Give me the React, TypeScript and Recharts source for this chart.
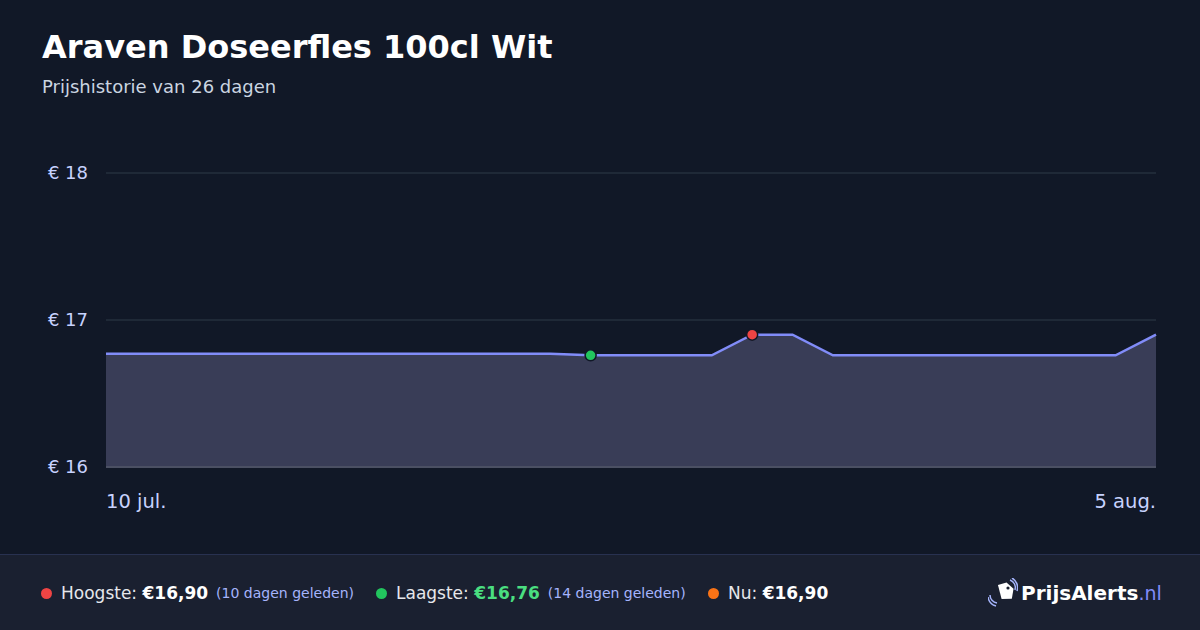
import React from 'react';
import { AreaChart, Area, XAxis, YAxis, CartesianGrid } from 'recharts';

const dates = [
  '10 jul.', '11 jul.', '12 jul.', '13 jul.', '14 jul.', '15 jul.', '16 jul.', '17 jul.', '18 jul.',
  '19 jul.', '20 jul.', '21 jul.', '22 jul.', '23 jul.', '24 jul.', '25 jul.', '26 jul.', '27 jul.',
  '28 jul.', '29 jul.', '30 jul.', '31 jul.', '1 aug.', '2 aug.', '3 aug.', '4 aug.', '5 aug.',
];
const prices = [
  16.77, 16.77, 16.77, 16.77, 16.77, 16.77, 16.77, 16.77, 16.77,
  16.77, 16.77, 16.77, 16.76, 16.76, 16.76, 16.76, 16.9, 16.9,
  16.76, 16.76, 16.76, 16.76, 16.76, 16.76, 16.76, 16.76, 16.9,
];
const yTicks = [16, 17, 18];
const xTicks = ['10 jul.', '5 aug.'];
const lowIndex = 12;
const highIndex = 16;

const data = dates.map((d, i) => ({ date: d, price: prices[i] }));

const BG = '#111827';
const FONT = '"DejaVu Sans", sans-serif';

const XTick = (props: any) => {
  const { x, y, payload } = props;
  const first = payload.value === xTicks[0];
  return (
    <text x={x} y={y + 33} textAnchor={first ? 'start' : 'end'} fill="#c7d2fe" fontSize={19.5} fontFamily={FONT}>
      {payload.value}
    </text>
  );
};

const YTick = (props: any) => {
  const { y, payload } = props;
  return (
    <text x={88} y={y + 6} textAnchor="end" fill="#c7d2fe" fontSize={18} fontFamily={FONT}>
      {'€ ' + payload.value}
    </text>
  );
};

const Dot = (props: any) => {
  const { cx, cy, index } = props;
  if (index !== lowIndex && index !== highIndex) return <g key={index} />;
  return (
    <circle key={index} cx={cx} cy={cy} r={5.5} fill={index === lowIndex ? '#22c55e' : '#ef4444'} stroke={BG} strokeWidth={1.5} />
  );
};

const Legend = ({ color, label, value, valueColor, note, left }: any) => (
  <div style={{ position: 'absolute', left, top: 0, display: 'flex', alignItems: 'center', whiteSpace: 'nowrap' }}>
    <span style={{ width: 11, height: 11, borderRadius: 6, background: color, display: 'inline-block', marginRight: 9 }} />
    <span style={{ color: '#e5e7eb', fontSize: 17 }}>{label}&nbsp;</span>
    <span style={{ color: valueColor, fontSize: 17, fontWeight: 700 }}>{value}</span>
    {note && <span style={{ color: '#a5b4fc', fontSize: 14, marginLeft: 8 }}>{note}</span>}
  </div>
);

export default function App() {
  return (
    <div style={{ position: 'absolute', left: 0, top: 0, width: 1200, height: 630, background: BG, fontFamily: FONT, overflow: 'hidden' }}>
      <div style={{ position: 'absolute', left: 42, top: 28, color: '#ffffff', fontSize: 32, fontWeight: 700 }}>
        Araven Doseerfles 100cl Wit
      </div>
      <div style={{ position: 'absolute', left: 42, top: 76, color: '#cbd5e1', fontSize: 18 }}>
        Prijshistorie van 26 dagen
      </div>
      <div style={{ position: 'absolute', left: 0, top: 0 }}>
        <AreaChart width={1200} height={540} data={data} margin={{ top: 173, right: 44, left: 0, bottom: 23 }}>
          <CartesianGrid vertical={false} stroke="#1f2937" strokeWidth={2} />
          <XAxis dataKey="date" ticks={xTicks} interval={0} tick={<XTick />} tickLine={false}
            axisLine={{ stroke: '#4b5063', strokeWidth: 2 }} height={50} />
          <YAxis domain={[16, 18]} ticks={yTicks} tick={<YTick />} tickLine={false} axisLine={false} width={106} />
          <Area type="linear" dataKey="price" stroke="#818cf8" strokeWidth={2.5} fill="#393d57" fillOpacity={1}
            dot={Dot} activeDot={false} isAnimationActive={false} baseValue={16} />
        </AreaChart>
      </div>
      <div style={{ position: 'absolute', left: 0, top: 554, width: 1200, height: 76, background: '#1a2030', borderTop: '1px solid #283150' }}>
        <div style={{ position: 'absolute', left: 0, top: 28, width: 1200, height: 24 }}>
          <Legend left={41} color="#ef4444" label="Hoogste:" value="€16,90" valueColor="#ffffff" note="(10 dagen geleden)" />
          <Legend left={376} color="#22c55e" label="Laagste:" value="€16,76" valueColor="#4ade80" note="(14 dagen geleden)" />
          <Legend left={708} color="#f97316" label="Nu:" value="€16,90" valueColor="#ffffff" />
        </div>
        <div style={{ position: 'absolute', left: 988, top: 23, display: 'flex', alignItems: 'center' }}>
          <svg width={30} height={30} viewBox="0 0 30 30">
            <path d="M9 8 L17 4 L25 9 L25 19 L15 21 Z" fill="#ffffff" transform="rotate(10 15 13)" />
            <circle cx={20} cy={10} r={1.6} fill="#1a2030" />
            <path d="M22 2 A8 8 0 0 1 27 12" stroke="#a5b4fc" strokeWidth={1.5} fill="none" />
            <path d="M24 0 A11 11 0 0 1 29 13" stroke="#a5b4fc" strokeWidth={1.5} fill="none" />
            <path d="M2 17 A8 8 0 0 0 9 25" stroke="#a5b4fc" strokeWidth={1.5} fill="none" />
            <path d="M0 19 A11 11 0 0 0 8 28" stroke="#a5b4fc" strokeWidth={1.5} fill="none" />
          </svg>
          <span style={{ color: '#ffffff', fontSize: 20, fontWeight: 700, marginLeft: 3 }}>PrijsAlerts</span>
          <span style={{ color: '#818cf8', fontSize: 19 }}>.nl</span>
        </div>
      </div>
    </div>
  );
}
